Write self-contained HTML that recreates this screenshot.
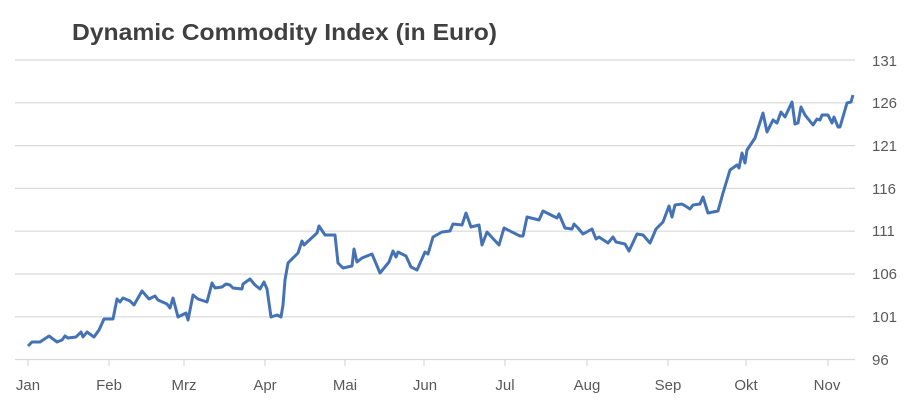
<!DOCTYPE html>
<html><head><meta charset="utf-8"><style>
html,body{margin:0;padding:0;background:#fff;}
svg{display:block;}
</style></head><body>
<svg width="914" height="406" viewBox="0 0 914 406" xmlns="http://www.w3.org/2000/svg">
<rect width="914" height="406" fill="#fff"/>
<text x="72" y="40" font-family="Liberation Sans, sans-serif" font-weight="bold" font-size="23" fill="#404040" textLength="425" lengthAdjust="spacingAndGlyphs">Dynamic Commodity Index (in Euro)</text>
<g stroke="#d9d9d9" stroke-width="1.2">
<line x1="15" y1="60" x2="855" y2="60"/>
<line x1="15" y1="102.8" x2="855" y2="102.8"/>
<line x1="15" y1="145.6" x2="855" y2="145.6"/>
<line x1="15" y1="188.4" x2="855" y2="188.4"/>
<line x1="15" y1="231.2" x2="855" y2="231.2"/>
<line x1="15" y1="274" x2="855" y2="274"/>
<line x1="15" y1="316.8" x2="855" y2="316.8"/>
<line x1="15" y1="359.5" x2="855" y2="359.5"/>
<line x1="28" y1="359" x2="28" y2="366"/><line x1="109" y1="359" x2="109" y2="366"/><line x1="184" y1="359" x2="184" y2="366"/><line x1="265" y1="359" x2="265" y2="366"/><line x1="345" y1="359" x2="345" y2="366"/><line x1="424" y1="359" x2="424" y2="366"/><line x1="505" y1="359" x2="505" y2="366"/><line x1="587" y1="359" x2="587" y2="366"/><line x1="668" y1="359" x2="668" y2="366"/><line x1="746" y1="359" x2="746" y2="366"/><line x1="828" y1="359" x2="828" y2="366"/>
</g>
<g font-family="Liberation Sans, sans-serif" font-size="15" fill="#595959">
<text x="872" y="66">131</text><text x="872" y="108">126</text><text x="872" y="151">121</text><text x="872" y="194">116</text><text x="872" y="236">111</text><text x="872" y="279">106</text><text x="872" y="322">101</text><text x="872" y="365">96</text>
<g text-anchor="middle">
<text x="28" y="390">Jan</text><text x="109" y="390">Feb</text><text x="184" y="390">Mrz</text><text x="265" y="390">Apr</text><text x="345" y="390">Mai</text><text x="425" y="390">Jun</text><text x="505" y="390">Jul</text><text x="587" y="390">Aug</text><text x="668" y="390">Sep</text><text x="746" y="390">Okt</text><text x="827" y="390">Nov</text>
</g></g>
<polyline fill="none" stroke="#4472b4" stroke-width="3" stroke-linejoin="round" points="28,346 32,342 40,342 49,336 57,342 62,340 65,336 68,338 76,337 81,332 83,337 87,332 94,337 99,330 104,319 113,319 117,299 120,302 123,298 130,301 134,305 142,291 149,299 155,296 158,300 167,304 170,308 173,298 178,317 186,313 188,320 193,295 198,299 207,302 212,283 215,288 222,287 226,284 230,285 233,288 242,289 243,284 250,279 255,285 260,289 264,282 267,289 271,317 277,315 281,317 283,305 285,280 288,263 298,253 302,241 304,245 317,233 319,226 325,235 335,235 338,263 343,268 352,266 354,249 357,262 362,258 372,254 380,273 389,262 393,251 396,257 398,252 406,256 411,267 417,270 425,252 428,254 433,237 442,232 450,231 453,224 462,225 466,213 471,227 479,225 482,245 487,232 499,245 504,228 520,236 523,236 527,217 539,220 543,211 557,218 559,214 565,228 572,229 574,224 578,228 583,234 592,229 596,239 599,237 608,243 613,237 616,242 625,244 629,251 637,234 643,235 650,243 656,229 663,222 669,206 672,217 675,205 682,204 687,207 690,209 693,205 700,204 703,197 708,213 718,211 723,193 730,170 737,165 739,168 742,153 745,163 747,150 755,138 763,113 767,132 773,120 777,123 781,112 785,117 792,102 795,124 798,123 801,107 805,115 813,125 817,119 820,120 822,115 828,115 832,123 834,117 838,127 840,127 847,103 851,102 853,95"/>
</svg>
</body></html>
